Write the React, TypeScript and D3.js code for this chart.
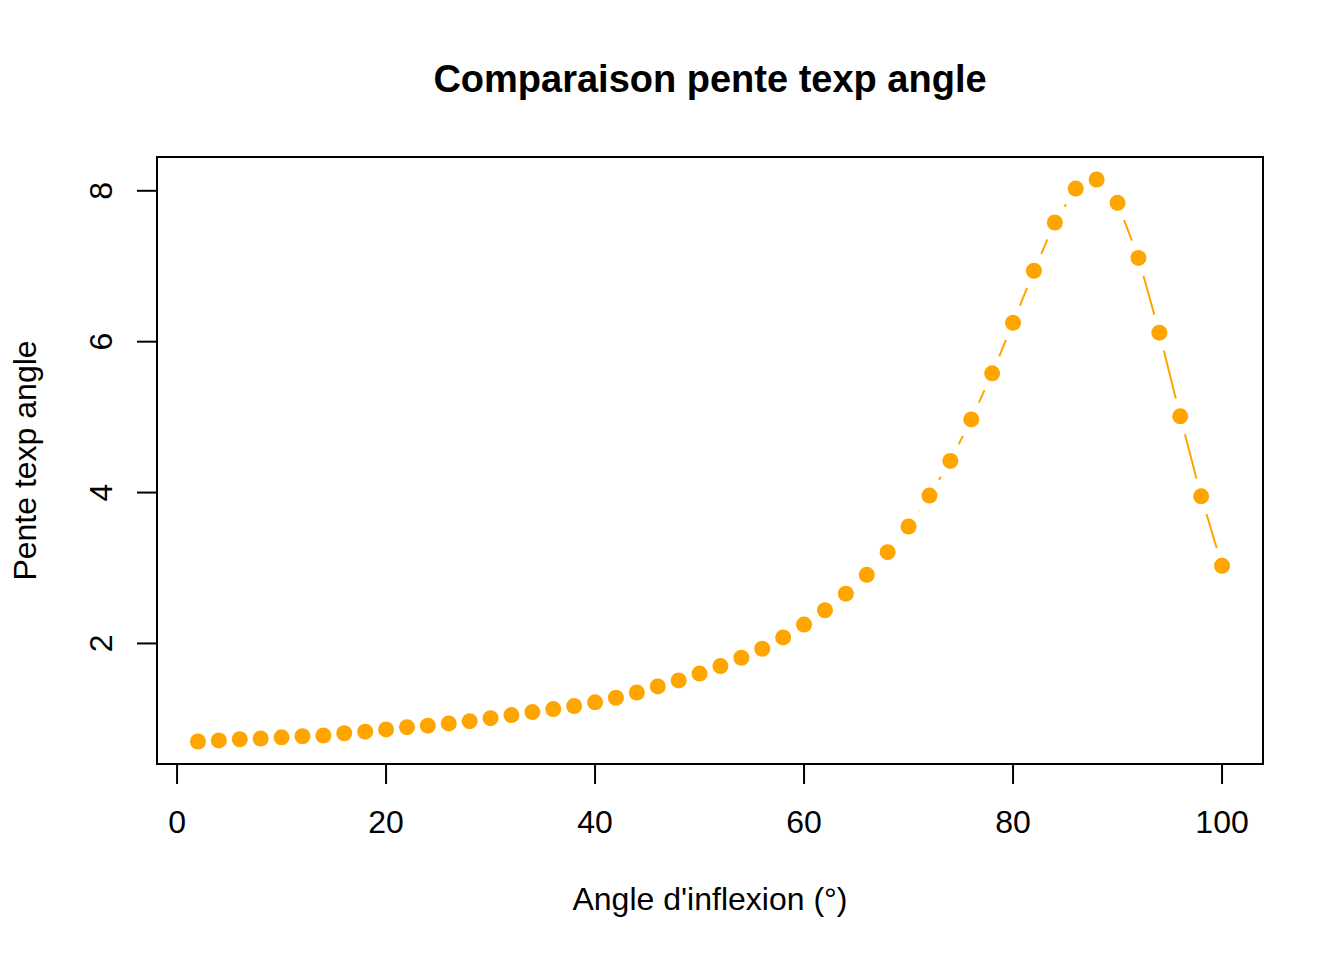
import React from 'react';
import * as d3 from 'd3';

// angle d'inflexion (°) and pente texp
const angles = [
  2, 4, 6, 8, 10, 12, 14, 16, 18, 20, 22, 24, 26, 28, 30, 32, 34, 36, 38, 40,
  42, 44, 46, 48, 50, 52, 54, 56, 58, 60, 62, 64, 66, 68, 70, 72, 74, 76, 78, 80,
  82, 84, 86, 88, 90, 92, 94, 96, 98, 100,
];
const pentes = [
  0.70, 0.715, 0.73, 0.74, 0.755, 0.77, 0.78, 0.81, 0.83, 0.86,
  0.89, 0.91, 0.94, 0.97, 1.01, 1.05, 1.09, 1.13, 1.17, 1.22,
  1.28, 1.35, 1.43, 1.51, 1.60, 1.70, 1.81, 1.93, 2.08, 2.25,
  2.44, 2.66, 2.91, 3.21, 3.55, 3.96, 4.42, 4.97, 5.58, 6.25,
  6.94, 7.58, 8.03, 8.15, 7.84, 7.11, 6.12, 5.01, 3.95, 3.03,
];
const xTicks = [0, 20, 40, 60, 80, 100];
const yTicks = [2, 4, 6, 8];

const W = 1344;
const H = 960;
const box = { left: 157, right: 1263, top: 157, bottom: 764 };
const orange = '#FFA500';
const font = '"Liberation Sans", Arial, sans-serif';

const App: React.FC = () => {
  // R style 4% padding on both axes
  const xMin = d3.min(angles)!, xMax = d3.max(angles)!;
  const yMin = d3.min(pentes)!, yMax = d3.max(pentes)!;
  const xPad = (xMax - xMin) * 0.04;
  const yPad = (yMax - yMin) * 0.04;
  const x = d3.scaleLinear().domain([xMin - xPad, xMax + xPad]).range([box.left, box.right]);
  const y = d3.scaleLinear().domain([yMin - yPad, yMax + yPad]).range([box.bottom, box.top]);

  const pts = angles.map((a, i) => [x(a), y(pentes[i])] as [number, number]);

  // type = "b": segments broken around each point
  const gap = 18.5;
  const segs: string[] = [];
  for (let i = 0; i < pts.length - 1; i++) {
    const [x1, y1] = pts[i];
    const [x2, y2] = pts[i + 1];
    const d = Math.hypot(x2 - x1, y2 - y1);
    if (d <= 2 * gap) continue;
    const ux = (x2 - x1) / d, uy = (y2 - y1) / d;
    const line = d3.line();
    segs.push(line([[x1 + ux * gap, y1 + uy * gap], [x2 - ux * gap, y2 - uy * gap]])!);
  }

  const tickLen = 20;

  return (
    <svg width={W} height={H} style={{ display: 'block', position: 'absolute', left: 0, top: 0, background: '#fff' }}>
      <text x={(box.left + box.right) / 2} y={92} textAnchor="middle" fontFamily={font}
        fontWeight="bold" fontSize={38}>Comparaison pente texp angle</text>

      {segs.map((d, i) => (
        <path key={i} d={d} stroke={orange} strokeWidth={2} fill="none" />
      ))}
      {pts.map(([px, py], i) => (
        <circle key={i} cx={px} cy={py} r={8} fill={orange} />
      ))}

      <rect x={box.left} y={box.top} width={box.right - box.left} height={box.bottom - box.top}
        fill="none" stroke="#000" strokeWidth={2} />

      {/* x axis */}
      <line x1={x(xTicks[0])} x2={x(xTicks[xTicks.length - 1])} y1={box.bottom} y2={box.bottom} stroke="#000" strokeWidth={2} />
      {xTicks.map(t => (
        <g key={t}>
          <line x1={x(t)} x2={x(t)} y1={box.bottom} y2={box.bottom + tickLen} stroke="#000" strokeWidth={2} />
          <text x={x(t)} y={833} textAnchor="middle" fontFamily={font} fontSize={32}>{t}</text>
        </g>
      ))}
      <text x={(box.left + box.right) / 2} y={910} textAnchor="middle" fontFamily={font} fontSize={32}>
        Angle d'inflexion (°)
      </text>

      {/* y axis */}
      {yTicks.map(t => (
        <g key={t}>
          <line x1={box.left - tickLen} x2={box.left} y1={y(t)} y2={y(t)} stroke="#000" strokeWidth={2} />
          <text transform={`translate(112,${y(t)}) rotate(-90)`} textAnchor="middle" fontFamily={font} fontSize={32}>{t}</text>
        </g>
      ))}
      <text transform={`translate(36,${(box.top + box.bottom) / 2}) rotate(-90)`} textAnchor="middle"
        fontFamily={font} fontSize={32}>Pente texp angle</text>
    </svg>
  );
};

export default App;
